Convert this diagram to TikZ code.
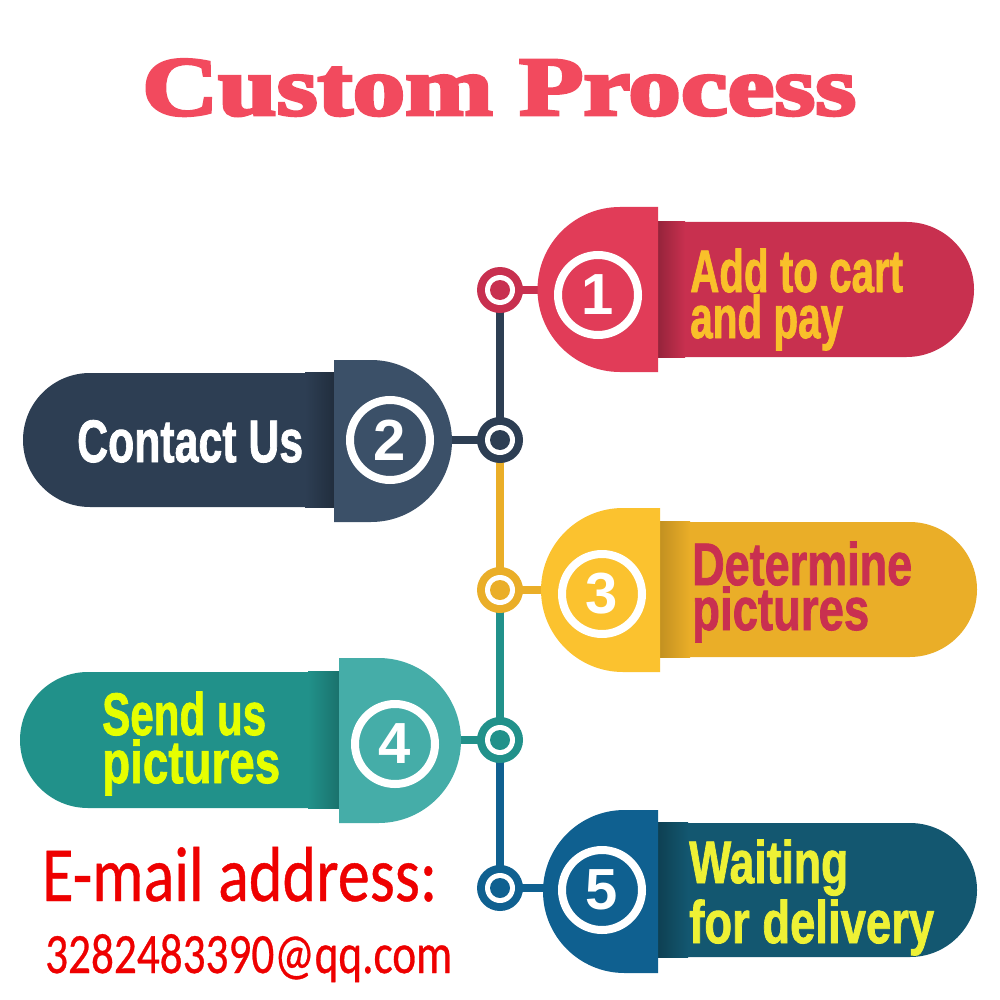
\documentclass[tikz,border=0pt]{standalone}
\usepackage{fontspec}
\usepackage{graphicx}
\usetikzlibrary{shapes.misc}
\setmainfont{Liberation Sans}
\newfontfamily\titlef{Liberation Serif}[BoldFeatures={FakeBold=3.5}]
\newfontfamily\impf{Liberation Sans}[BoldFeatures={FakeBold=1.5}]
\newfontfamily\mailf{Carlito}[FakeBold=0.6]
\definecolor{titlered}{HTML}{F24A5E}
\definecolor{aL}{HTML}{E13C58}\definecolor{aD}{HTML}{C8304F}\definecolor{aT}{HTML}{F9C02A}
\definecolor{bL}{HTML}{3B5068}\definecolor{bD}{HTML}{2D3E53}
\definecolor{cL}{HTML}{FBC22F}\definecolor{cD}{HTML}{EAAE28}\definecolor{cT}{HTML}{C93050}
\definecolor{dL}{HTML}{45ADA8}\definecolor{dD}{HTML}{21918A}\definecolor{dT}{HTML}{E6FF00}
\definecolor{eL}{HTML}{0F6090}\definecolor{eD}{HTML}{135770}\definecolor{eT}{HTML}{EEF135}
\definecolor{mailred}{HTML}{EE0000}
\ExplSyntaxOn
\NewDocumentCommand\fitw{mm}{
  \hbox_set:Nn \l_tmpa_box {#2}
  \tl_set:Nx \l_tmpa_tl {\fp_eval:n{(#1)/\dim_to_decimal:n{\box_wd:N \l_tmpa_box}}}
  \scalebox{\l_tmpa_tl}[1]{\box_use:N \l_tmpa_box}
}
\ExplSyntaxOff
% light "D" caps: #1 colour, #2 arc centre x, #3 centre y, #4 radius, #5 flat edge x
\newcommand\capRight[5]{\fill[#1] (#5,{#3-#4}) -- (#2,{#3-#4}) arc[start angle=270,end angle=90,radius=#4] -- (#5,{#3+#4}) -- cycle;}
\newcommand\capLeft[5]{\fill[#1] (#5,{#3-#4}) -- (#2,{#3-#4}) arc[start angle=-90,end angle=90,radius=#4] -- (#5,{#3+#4}) -- cycle;}
\tikzset{
  pillR/.style={rounded rectangle, rounded rectangle left arc=none, inner sep=0pt, draw=none},
  pillL/.style={rounded rectangle, rounded rectangle right arc=none, inner sep=0pt, draw=none},
  ring/.style={circle, draw=white, line width=8pt, minimum size=80pt, inner sep=0pt,
    text=white, font=\fontsize{58}{58}\selectfont\bfseries},
  dot/.style={circle, minimum size=46pt, inner sep=0pt},
  lbl/.style={anchor=base west, inner sep=0pt, font=\fontsize{60}{60}\selectfont\impf\bfseries},
  tl/.style={line width=8pt},
}
\begin{document}
\begin{tikzpicture}[x=1pt,y=-1pt]
\useasboundingbox (0,0) rectangle (1000,1000);
\fill[white] (0,0) rectangle (1000,1000);
% title
\node[anchor=base west, inner sep=0pt, text=titlered, font=\fontsize{84}{84}\selectfont\titlef\bfseries] (title) at (142,115) {\fitw{714}{Custom Process}};
% timeline dots (positions)
\coordinate (c1) at (500,290);
\coordinate (c2) at (500,440);
\coordinate (c3) at (500,590);
\coordinate (c4) at (500,740);
\coordinate (c5) at (500,888);
\coordinate (k1) at (598,290);
\coordinate (k2) at (392,440);
\coordinate (k3) at (600,590);
\coordinate (k4) at (400,740);
\coordinate (k5) at (600,888);
% timeline segments
\draw[tl, bD] (c1) -- (c2);
\draw[tl, cD] (c2) -- (c3);
\draw[tl, dD] (c3) -- (c4);
\draw[tl, eL] (c4) -- (c5);
% stubs
\draw[tl, aD] (c1) -- (k1);
\draw[tl, bD] (c2) -- (k2);
\draw[tl, cD] (c3) -- (k3);
\draw[tl, dD] (c4) -- (k4);
\draw[tl, eL] (c5) -- (k5);
% dots
\foreach \c/\col in {c1/aD,c2/bD,c3/cD,c4/dD,c5/eL}{
  \node[dot, fill=\col] (\c d) at (\c) {};
  \fill[white] (\c) circle[radius=15pt];
  \fill[\col] (\c) circle[radius=10pt];
}
% step 1
\node[pillR, fill=aD, minimum width=334pt, minimum height=135pt] (d1) at (807,289.5) {};
\shade[left color=aD!72!black, right color=aD] (d1.north west -| 655,0) rectangle (d1.south west -| 685,0);
\capRight{aL}{620}{289.5}{82.5}{658}
\node[ring] (n1) at (598,295) {1};
\node[lbl, text=aT] (t1a) at (690,292) {\fitw{213}{Add to cart}};
\node[lbl, text=aT] (t1b) at (690,338) {\fitw{153}{and pay}};
% step 2
\node[pillL, fill=bD, minimum width=327pt, minimum height=134pt] (d2) at (186.5,440) {};
\shade[left color=bD, right color=bD!72!black] (d2.north east -| 305,0) rectangle (d2.south east -| 336,0);
\capLeft{bL}{371}{441}{81}{334}
\node[ring] (n2) at (390,440) {2};
\node[lbl, text=white] (t2) at (77,462) {\fitw{226}{Contact Us}};
% step 3
\node[pillR, fill=cD, minimum width=328pt, minimum height=135pt] (d3) at (813,589.5) {};
\shade[left color=cD!82!black, right color=cD] (d3.north west -| 658,0) rectangle (d3.south west -| 690,0);
\capRight{cL}{623}{590}{82}{660}
\node[ring] (n3) at (602,594) {3};
\node[lbl, text=cT] (t3a) at (692,585) {\fitw{220}{Determine}};
\node[lbl, text=cT] (t3b) at (692,630) {\fitw{177}{pictures}};
% step 4
\node[pillL, fill=dD, minimum width=330pt, minimum height=136pt] (d4) at (185,740) {};
\shade[left color=dD, right color=dD!78!black] (d4.north east -| 308,0) rectangle (d4.south east -| 340,0);
\capLeft{dL}{378.5}{740.5}{82.5}{339}
\node[ring] (n4) at (395,744) {4};
\node[lbl, text=dT] (t4a) at (102,735) {\fitw{164}{Send us}};
\node[lbl, text=dT] (t4b) at (102,783) {\fitw{178}{pictures}};
% step 5
\node[pillR, fill=eD, minimum width=327pt, minimum height=134pt] (d5) at (813.5,890) {};
\shade[left color=eD!72!black, right color=eD] (d5.north west -| 656,0) rectangle (d5.south west -| 688,0);
\capRight{eL}{624.5}{891.5}{81.5}{658}
\node[ring] (n5) at (602,890) {5};
\node[lbl, text=eT] (t5a) at (689,883) {\fitw{159}{Waiting}};
\node[lbl, text=eT] (t5b) at (689,943) {\fitw{245}{for delivery}};
% email
\node[anchor=base west, inner sep=0pt, text=mailred, font=\fontsize{78}{78}\selectfont\mailf] (mail1) at (42,901) {\fitw{395}{E-mail address:}};
\node[anchor=base west, inner sep=0pt, text=mailred, font=\fontsize{57}{57}\selectfont\mailf] (mail2) at (45,973) {\fitw{407}{3282483390@qq.com}};
\end{tikzpicture}
\end{document}
